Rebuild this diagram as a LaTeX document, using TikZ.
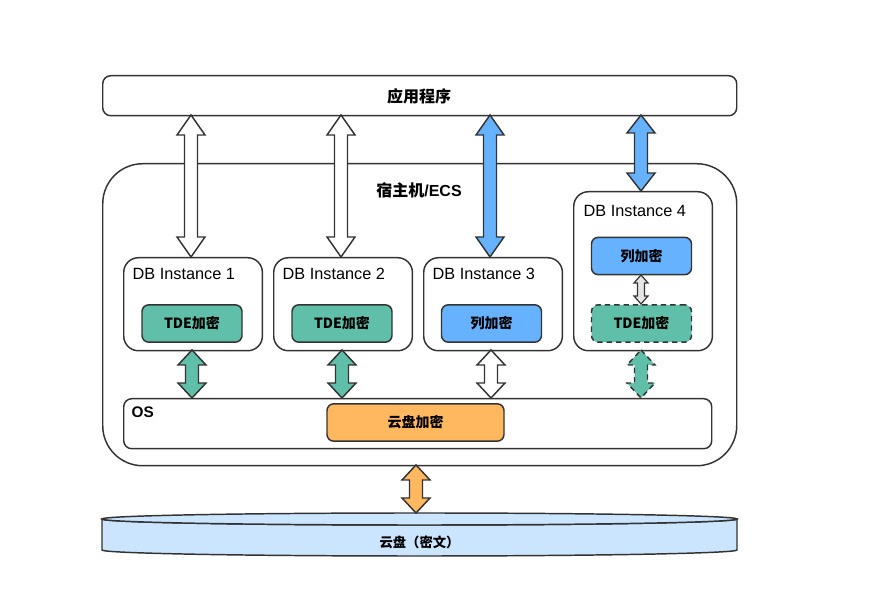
\documentclass[tikz,border=0pt]{standalone}
\usepackage{fontspec}
\setmainfont{Liberation Sans}
\newfontfamily\cjk{Noto Sans CJK SC}
\usetikzlibrary{calc}
\definecolor{edge}{HTML}{333333}
\definecolor{tgreen}{HTML}{60BFA8}
\definecolor{tblue}{HTML}{66B2FF}
\definecolor{torange}{HTML}{FFB860}
\definecolor{tdisk}{HTML}{CCE5FF}
\definecolor{tgray}{HTML}{E6E6E6}
\newcommand\blockarrow[7]{%
  \draw[#1] (#2,#3) -- (#2+#6,#3+#7) -- (#2+#5,#3+#7) -- (#2+#5,#4-#7) -- (#2+#6,#4-#7) -- (#2,#4)
   -- (#2-#6,#4-#7) -- (#2-#5,#4-#7) -- (#2-#5,#3+#7) -- (#2-#6,#3+#7) -- cycle;}
\begin{document}
\begin{tikzpicture}[x=0.75pt,y=-0.75pt,
  line width=1.1pt, draw=edge,
  box/.style={draw=edge, line width=1.1pt, rounded corners=#1, anchor=north west, inner sep=0pt},
  box/.default=6pt,
  enc/.style={draw=edge, line width=1.1pt, rounded corners=5pt, minimum width=75pt, minimum height=28pt, inner sep=0pt, font=\bfseries\cjk\fontsize{10.5}{12}\selectfont},
  arr/.style={draw=edge, line width=1.1pt, line join=miter},
  ttl/.style={font=\fontsize{12.2}{14}\selectfont, anchor=west, inner sep=0pt},
]
\useasboundingbox (0,0) rectangle (879,605);
% application
\node[box, minimum width=475.5pt, minimum height=30pt] (app) at (102,75) {};
\node[font=\cjk\bfseries\fontsize{12}{14}\selectfont] (appt) at (419,96) {应用程序};
% host
\node[box=30pt, minimum width=475.5pt, minimum height=226.5pt] (host) at (102,163) {};
\node[font=\bfseries\fontsize{12}{14}\selectfont] (hostt) at (419,190) {{\cjk 宿主机}/ECS};
% instances
\node[box=11pt, minimum width=104pt, minimum height=69.75pt] (i1) at (123,257) {};
\node[box=11pt, minimum width=104pt, minimum height=69.75pt] (i2) at (273,257) {};
\node[box=11pt, minimum width=104pt, minimum height=69.75pt] (i3) at (423,257) {};
\node[box=11pt, minimum width=104pt, minimum height=119.25pt] (i4) at (573,191) {};
\node[ttl] (i1t) at (132,274) {DB Instance 1};
\node[ttl] (i2t) at (282,274) {DB Instance 2};
\node[ttl] (i3t) at (432,274) {DB Instance 3};
\node[ttl] (i4t) at (583,211) {DB Instance 4};
\node[enc, fill=tgreen] (e1) at (192,323.5) {TDE加密};
\node[enc, fill=tgreen] (e2) at (342,323.5) {TDE加密};
\node[enc, fill=tblue] (e3) at (491.5,323.5) {列加密};
\node[enc, fill=tblue] (e4a) at (641.5,256) {列加密};
\node[enc, fill=tgreen, dashed, dash pattern=on 4pt off 3pt] (e4b) at (641.5,323.5) {TDE加密};
% OS
\node[box, minimum width=441pt, minimum height=37.5pt] (os) at (123,398) {};
\node[font=\bfseries\fontsize{11.5}{13}\selectfont, anchor=west, inner sep=0pt] (ost) at (131,412) {OS};
\node[enc, fill=torange, minimum width=132.75pt] (cde) at (415.5,422.5) {云盘加密};
% disk cylinder
\draw[fill=tdisk] (102,519) -- (102,550) arc[start angle=180, end angle=0, x radius=317.5, y radius=6] -- (737,519) arc[start angle=0, end angle=180, x radius=317.5, y radius=6] -- cycle;
\draw[fill=tdisk] (419.5,519) ellipse[x radius=317.5, y radius=6];
\node[font=\cjk\bfseries\fontsize{10}{12}\selectfont] (disk) at (419.5,542) {云盘（密文）};
% arrows top
\blockarrow{arr, fill=white}{191}{115}{257}{6.5}{14}{20}
\blockarrow{arr, fill=white}{341}{115}{257}{6.5}{14}{20}
\blockarrow{arr, fill=tblue}{490}{115}{257}{6.5}{14}{20}
\blockarrow{arr, fill=tblue}{641}{115}{191}{6.5}{14}{18}
% arrows bottom
\blockarrow{arr, fill=tgreen}{192}{350}{398}{6.5}{14}{15}
\blockarrow{arr, fill=tgreen}{342}{350}{398}{6.5}{14}{15}
\blockarrow{arr, fill=white}{491}{350}{398}{6.5}{14}{15}
\blockarrow{arr, fill=tgreen, dashed, dash pattern=on 4pt off 3pt}{641}{350}{398}{6.5}{14}{15}
\blockarrow{arr, fill=tgray, line width=0.9pt}{641}{275}{304}{3.5}{7}{8}
\blockarrow{arr, fill=torange}{416}{465}{513}{6.5}{14}{15}
\end{tikzpicture}
\end{document}
